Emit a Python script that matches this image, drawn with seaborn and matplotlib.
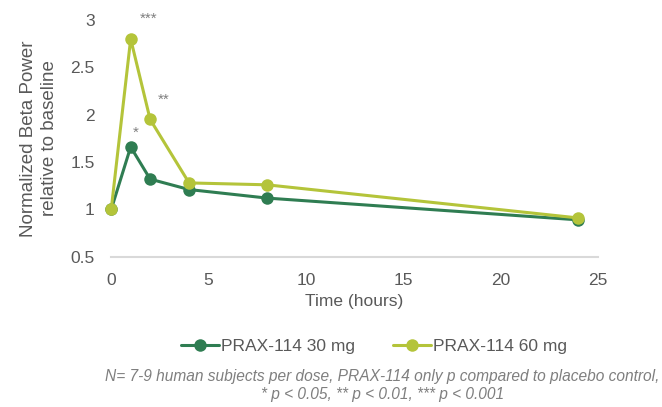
import pandas as pd
import matplotlib.pyplot as plt
import seaborn as sns

# Data
hours = [0, 1, 2, 4, 8, 24]
dose_30mg = [1.0, 1.66, 1.32, 1.21, 1.12, 0.89]
dose_60mg = [1.0, 2.80, 1.95, 1.28, 1.26, 0.91]
series_names = ["PRAX-114 30 mg", "PRAX-114 60 mg"]
colors = ["#2f7d52", "#b4c43a"]


def main():
    df = pd.concat([
        pd.DataFrame({"hours": hours, "value": dose_30mg, "dose": series_names[0]}),
        pd.DataFrame({"hours": hours, "value": dose_60mg, "dose": series_names[1]}),
    ])

    sns.set_style("white")
    plt.rcParams["font.family"] = ["Liberation Sans", "DejaVu Sans"]

    fig, ax = plt.subplots(figsize=(6.62, 4.07), dpi=100)
    fig.subplots_adjust(left=0.168, right=0.903, top=0.951, bottom=0.369)

    sns.lineplot(
        data=df, x="hours", y="value", hue="dose",
        palette=colors, marker="o", markersize=9, markeredgewidth=0,
        linewidth=2.2, ax=ax,
    )
    # keep the first markers whole at the axis edge
    for line in ax.lines:
        line.set_clip_on(False)

    ax.set_xlim(0, 25)
    ax.set_ylim(0.5, 3)
    ax.set_xticks([0, 5, 10, 15, 20, 25])
    ax.set_yticks([0.5, 1, 1.5, 2, 2.5, 3])
    ax.set_yticklabels(["0.5", "1", "1.5", "2", "2.5", "3"])
    ax.tick_params(colors="#595959", labelsize=12.5, length=0)
    ax.tick_params(axis="y", pad=12)
    ax.tick_params(axis="x", pad=12)

    for side in ["top", "right", "left"]:
        ax.spines[side].set_visible(False)
    ax.spines["bottom"].set_color("#d9d9d9")
    ax.spines["bottom"].set_linewidth(1.5)
    ax.spines["bottom"].set_zorder(0)

    ax.set_xlabel("Time (hours)", color="#595959", fontsize=12.5, labelpad=4)
    ax.set_ylabel("Normalized Beta Power\nrelative to baseline", color="#595959",
                  fontsize=13.5, labelpad=9, linespacing=1.3)

    # significance marks
    ax.text(1.25, 1.77, "*", color="#7f7f7f", fontsize=11, ha="center")
    ax.text(1.9, 2.97, "***", color="#7f7f7f", fontsize=11, ha="center")
    ax.text(2.7, 2.12, "**", color="#7f7f7f", fontsize=11, ha="center")

    ax.legend(
        loc="upper center", bbox_to_anchor=(0.54, -0.28), ncol=2, frameon=False,
        fontsize=12.5, labelcolor="#595959", handlelength=2.2, handletextpad=0.1,
        columnspacing=2.2,
    )

    fig.text(
        0.578, 0.012,
        "N= 7-9 human subjects per dose, PRAX-114 only p compared to placebo control,\n"
        "* p < 0.05, ** p < 0.01, *** p < 0.001",
        ha="center", va="bottom", fontsize=11.2, style="italic", color="#7f7f7f",
        linespacing=1.25,
    )

    fig.savefig("out.png", dpi=100)


if __name__ == "__main__":
    main()
